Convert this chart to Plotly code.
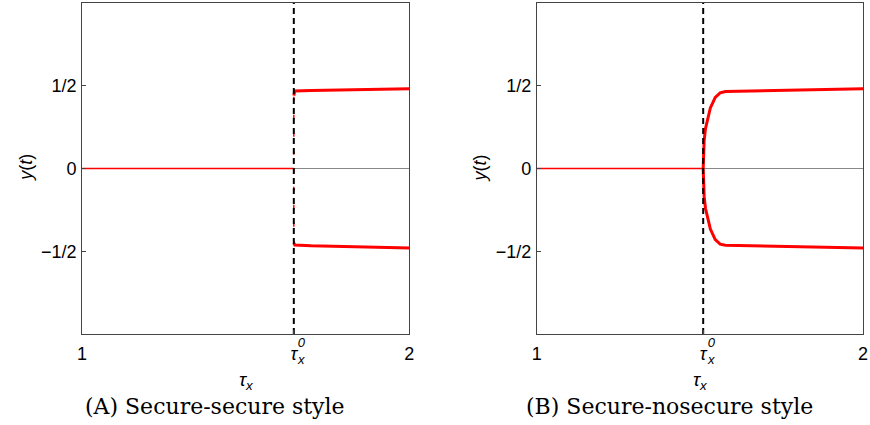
import plotly.graph_objects as go

# Panel A (secure-secure)
x0_a = 1.647
zero_a_x = [1.0, 1.647]
zero_a_y = [0.0, 0.0]
upper_a_x = [1.647, 1.650, 1.70, 1.80, 1.90, 2.0]
upper_a_y = [0.44, 0.468, 0.471, 0.475, 0.479, 0.482]
lower_a_x = [1.647, 1.650, 1.70, 1.80, 1.90, 2.0]
lower_a_y = [-0.45, -0.462, -0.467, -0.473, -0.478, -0.481]
jump_a_y = [-0.46, 0.46]

# Panel B (secure-nosecure)
x0_b = 1.51
zero_b_x = [1.0, 1.51]
zero_b_y = [0.0, 0.0]
upper_b_x = [1.510, 1.511, 1.513, 1.517, 1.523, 1.532, 1.547, 1.562, 1.578, 1.70, 1.80, 1.90, 2.0]
upper_b_y = [0.0, 0.08, 0.17, 0.24, 0.29, 0.366, 0.43, 0.457, 0.465, 0.470, 0.474, 0.478, 0.482]
lower_b_x = upper_b_x
lower_b_y = [0.0, -0.08, -0.17, -0.24, -0.29, -0.366, -0.43, -0.457, -0.463, -0.467, -0.472, -0.477, -0.481]

y_ticks = [-0.5, 0.0, 0.5]
y_ticktext = ["\u22121/2", "0", "1/2"]
x_ticktext = ["1", "<i>\u03c4</i>", "2"]
captions = ["(A) Secure-secure style", "(B) Secure-nosecure style"]

RED = "#ff0000"
W, H = 870, 425
fig = go.Figure()

def panel(xa, ya, zx, zy, ux, uy, lx, ly, x0, jump=None):
    if jump is not None:
        fig.add_trace(go.Scatter(x=[x0, x0], y=jump, mode="lines", xaxis=xa, yaxis=ya,
                                 line=dict(color=RED, width=1.5, dash="4px,14px"),
                                 showlegend=False, hoverinfo="skip"))
    fig.add_trace(go.Scatter(x=zx, y=zy, mode="lines", xaxis=xa, yaxis=ya,
                             line=dict(color=RED, width=1.5), showlegend=False))
    fig.add_trace(go.Scatter(x=ux, y=uy, mode="lines", xaxis=xa, yaxis=ya,
                             line=dict(color=RED, width=3), showlegend=False))
    fig.add_trace(go.Scatter(x=lx, y=ly, mode="lines", xaxis=xa, yaxis=ya,
                             line=dict(color=RED, width=3), showlegend=False))
    fig.add_trace(go.Scatter(x=[x0, x0], y=[-1.0, 1.0], mode="lines", xaxis=xa, yaxis=ya,
                             line=dict(color="black", width=2, dash="6px,4px"), showlegend=False))

panel("x", "y", zero_a_x, zero_a_y, upper_a_x, upper_a_y, lower_a_x, lower_a_y, x0_a, jump_a_y)
panel("x2", "y2", zero_b_x, zero_b_y, upper_b_x, upper_b_y, lower_b_x, lower_b_y, x0_b)

ydom = [1 - 334 / H, 1 - 3 / H]
tickfont = dict(family="Liberation Sans, Arial", size=18, color="black")
common_x = dict(range=[1, 2], showgrid=False, zeroline=False, showline=True, mirror=True,
                linecolor="#444", linewidth=1, ticks="inside", ticklen=4, tickcolor="#444",
                tickfont=tickfont, ticklabelstandoff=3)
common_y = dict(range=[-1, 1], showgrid=False, zeroline=True, zerolinecolor="#888",
                zerolinewidth=1, showline=True, mirror=True, linecolor="#444", linewidth=1,
                ticks="inside", ticklen=4, tickcolor="#444", tickfont=tickfont,
                tickvals=y_ticks, ticktext=y_ticktext, ticklabelstandoff=1)

fig.update_layout(
    width=W, height=H, margin=dict(l=0, r=0, t=0, b=0),
    paper_bgcolor="white", plot_bgcolor="white",
    xaxis=dict(domain=[78 / W, 409 / W], anchor="y", tickvals=[1, x0_a, 2],
               ticktext=x_ticktext, **common_x),
    yaxis=dict(domain=ydom, anchor="x", **common_y),
    xaxis2=dict(domain=[538 / W, 868 / W], anchor="y2", tickvals=[1, x0_b, 2],
                ticktext=x_ticktext, **common_x),
    yaxis2=dict(domain=ydom, anchor="x2", **common_y),
)

sans = "Liberation Sans, Arial"
capfont = dict(family="DejaVu Serif, Liberation Serif", size=22, color="black")

def py(p):
    return 1 - p / H

for (cx, ytx, cap, xr, x0) in [(244, 21, captions[0], "x", x0_a), (704, 481, captions[1], "x2", x0_b)]:
    # x-axis title
    fig.add_annotation(x=cx / W, y=py(381), xref="paper", yref="paper", showarrow=False,
                       xanchor="center", yanchor="middle",
                       text="<i>\u03c4</i><sub><i>x</i></sub>", font=dict(family=sans, size=19, color="black"))
    # y-axis title
    fig.add_annotation(x=ytx / W, y=py(168), xref="paper", yref="paper", showarrow=False,
                       xanchor="center", yanchor="middle",
                       text="<i>y</i>(<i>t</i>)", textangle=-90, font=dict(family=sans, size=18, color="black"))
    # caption
    fig.add_annotation(x=(cx - 32) / W, y=py(406), xref="paper", yref="paper", showarrow=False,
                       xanchor="center", yanchor="middle", text=cap, font=capfont)
    # stacked superscript 0 / subscript x of the tau_x^0 tick label
    fig.add_annotation(x=x0, y=py(351), xref=xr, yref="paper", showarrow=False, xshift=8,
                       xanchor="center", yanchor="middle", text="<i>0</i><br><i>x</i>", borderpad=0,
                       font=dict(family=sans, size=13, color="black"))

fig.write_html("out.html")
